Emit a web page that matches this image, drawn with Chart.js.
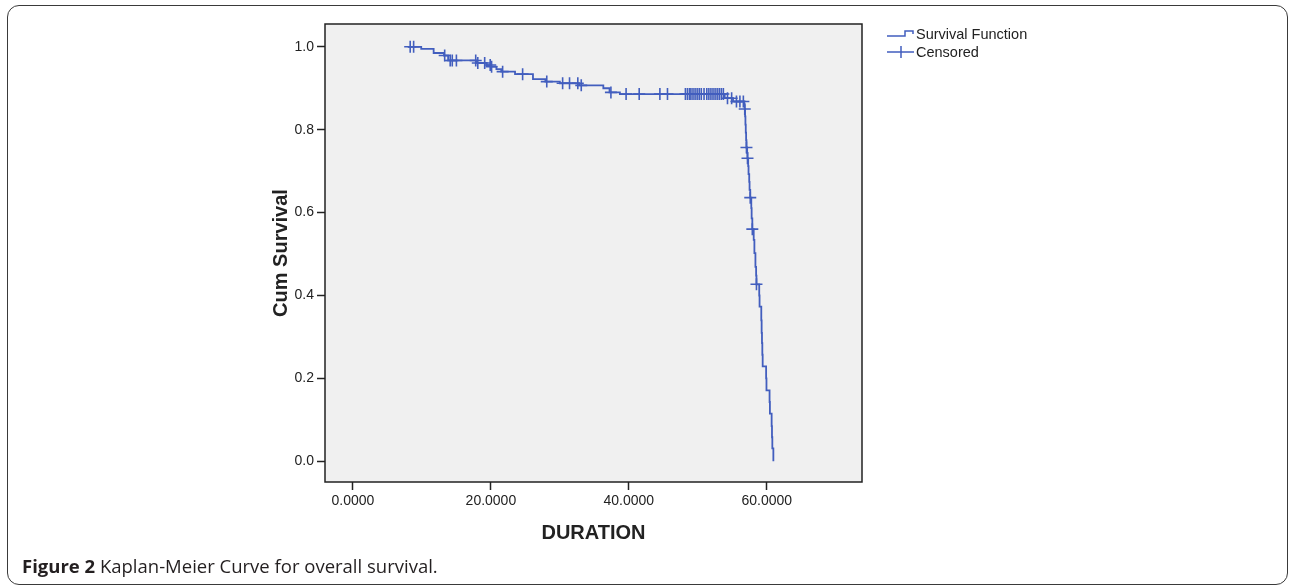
<!DOCTYPE html>
<html>
<head>
<meta charset="utf-8">
<script src="https://cdn.jsdelivr.net/npm/chart.js@4.4.1/dist/chart.umd.min.js"></script>
<style>
  html, body { margin: 0; padding: 0; background: #ffffff; }
  #wrap { position: relative; width: 1290px; height: 587px; overflow: hidden; background: #fff; }
  #frame { position: absolute; left: 7px; top: 5px; width: 1281px; height: 580px; box-sizing: border-box;
           border: 1.5px solid #3a3a3a; border-radius: 12px; }
  #c { position: absolute; left: 0; top: 0; }
  #caption { position: absolute; left: 22px; top: 555px; font-family: "Open Sans", sans-serif; font-size: 18.5px;
             line-height: 22px; color: #231f20; white-space: nowrap; }
  #caption b { font-weight: 700; }
</style>
</head>
<body>
<div id="wrap">
  <div id="frame"></div>
  <canvas id="c" width="1290" height="587"></canvas>
  <div id="caption"><b>Figure 2</b> Kaplan-Meier Curve for overall survival.</div>
</div>
<script>
// ---- Data (months, cumulative survival) ----
const eventTimes = [8.0, 9.9, 11.7, 13.2, 13.8, 17.9, 19.4, 20.0, 20.8, 21.5, 23.5, 26.1, 27.9, 30.0, 32.8,
  36.3, 37.2, 38.7, 53.9, 55.1, 56.7, 56.8, 56.85, 56.9, 56.95, 57.0, 57.05, 57.15, 57.2, 57.3, 57.35,
  57.45, 57.5, 57.6, 57.75, 57.8, 57.9, 58.1, 58.2, 58.35, 58.45, 58.5, 58.9, 58.95, 59.2, 59.25, 59.3,
  59.35, 59.4, 59.9, 59.95, 60.4, 60.45, 60.7, 60.75, 60.8, 60.95];
const eventSurvival = [1.000, 0.995, 0.985, 0.979, 0.967, 0.961, 0.956, 0.952, 0.946, 0.940, 0.934, 0.922,
  0.916, 0.912, 0.907, 0.900, 0.890, 0.886, 0.876, 0.868, 0.859, 0.850, 0.832, 0.812, 0.793, 0.775, 0.757,
  0.744, 0.731, 0.712, 0.693, 0.674, 0.655, 0.636, 0.611, 0.586, 0.560, 0.534, 0.502, 0.469, 0.448, 0.427,
  0.400, 0.373, 0.340, 0.310, 0.285, 0.257, 0.229, 0.200, 0.171, 0.143, 0.115, 0.085, 0.058, 0.031, 0.000];
const censorTimes = [8.3, 8.8, 13.3, 14.1, 14.4, 15.0, 17.8, 18.1, 19.1, 19.9, 20.1, 21.7, 24.6, 28.1, 30.4,
  31.4, 32.6, 33.1, 37.4, 39.6, 41.5, 44.5, 45.6, 48.2, 48.5, 48.8, 49.0, 49.3, 49.6, 49.9, 50.2, 50.5,
  50.9, 51.3, 51.6, 51.9, 52.2, 52.5, 52.8, 53.1, 53.4, 53.7, 54.3, 54.9, 55.6, 56.1, 56.6, 56.8, 57.05,
  57.2, 57.6, 57.9, 58.5];
const censorSurvival = [1.000, 1.000, 0.979, 0.967, 0.967, 0.967, 0.967, 0.961, 0.961, 0.956, 0.952, 0.940,
  0.934, 0.916, 0.912, 0.912, 0.912, 0.907, 0.890, 0.886, 0.886, 0.886, 0.886, 0.886, 0.886, 0.886, 0.886,
  0.886, 0.886, 0.886, 0.886, 0.886, 0.886, 0.886, 0.886, 0.886, 0.886, 0.886, 0.886, 0.886, 0.886, 0.886,
  0.876, 0.876, 0.868, 0.868, 0.868, 0.850, 0.757, 0.731, 0.636, 0.560, 0.427];
const xTickValues = [0, 20, 40, 60];
const yTickValues = [0.0, 0.2, 0.4, 0.6, 0.8, 1.0];
const legendLabels = ['Survival Function', 'Censored'];

const LINE = 'rgb(66, 94, 190)';
const AXIS = '#222222';

const plotPlugin = {
  id: 'plotDecor',
  beforeDatasetsDraw(chart) {
    const { ctx, chartArea: a } = chart;
    ctx.save();
    ctx.fillStyle = '#f0f0f0';
    ctx.fillRect(a.left, a.top, a.right - a.left, a.bottom - a.top);
    ctx.restore();
  },
  afterDraw(chart) {
    const { ctx, chartArea: a } = chart;
    ctx.save();
    ctx.strokeStyle = AXIS;
    ctx.lineWidth = 1.5;
    ctx.strokeRect(a.left, a.top, a.right - a.left, a.bottom - a.top);
    // legend
    ctx.strokeStyle = LINE;
    ctx.lineWidth = 1.5;
    ctx.beginPath();
    ctx.moveTo(887, 36); ctx.lineTo(905, 36); ctx.lineTo(905, 31); ctx.lineTo(913, 31); ctx.lineTo(913, 34);
    ctx.stroke();
    ctx.beginPath();
    ctx.moveTo(887, 52); ctx.lineTo(914, 52);
    ctx.moveTo(901, 46); ctx.lineTo(901, 58);
    ctx.stroke();
    ctx.fillStyle = AXIS;
    ctx.font = '14.5px "Liberation Sans", Arial, sans-serif';
    ctx.textBaseline = 'middle';
    ctx.textAlign = 'left';
    ctx.fillText(legendLabels[0], 916, 35);
    ctx.fillText(legendLabels[1], 916, 53);
    ctx.restore();
  }
};

const tickFont = { family: '"Liberation Sans", Arial, sans-serif', size: 14 };
const titleFont = { family: '"Liberation Sans", Arial, sans-serif', size: 20, weight: 'bold' };

new Chart(document.getElementById('c'), {
  type: 'line',
  data: {
    datasets: [
      {
        label: legendLabels[0],
        data: eventTimes.map((t, i) => ({ x: t, y: eventSurvival[i] })),
        stepped: true,
        borderColor: LINE,
        borderWidth: 1.8,
        pointRadius: 0,
        fill: false
      },
      {
        type: 'scatter',
        label: legendLabels[1],
        data: censorTimes.map((t, i) => ({ x: t, y: censorSurvival[i] })),
        pointStyle: 'cross',
        pointRadius: 6,
        pointBorderWidth: 1.6,
        borderColor: LINE,
        backgroundColor: LINE,
        showLine: false
      }
    ]
  },
  options: {
    responsive: false,
    animation: false,
    devicePixelRatio: 1,
    layout: { padding: { left: 265, top: 24, right: 428, bottom: 38 } },
    plugins: { legend: { display: false }, tooltip: { enabled: false } },
    scales: {
      x: {
        type: 'linear',
        min: -4.05,
        max: 73.8,
        afterBuildTicks: s => { s.ticks = xTickValues.map(v => ({ value: v })); },
        afterFit: s => { s.height = 67; },
        ticks: { callback: v => Number(v).toFixed(4), font: tickFont, color: AXIS, padding: 3,
                 minRotation: 0, maxRotation: 0, autoSkip: false },
        grid: { drawOnChartArea: false, drawTicks: true, tickLength: 8, tickColor: AXIS, tickWidth: 1.5 },
        border: { display: false },
        title: { display: true, text: 'DURATION', font: titleFont, color: AXIS, padding: { top: 4, bottom: 4 } }
      },
      y: {
        type: 'linear',
        min: -0.05,
        max: 1.055,
        afterBuildTicks: s => { s.ticks = yTickValues.map(v => ({ value: v })); },
        afterFit: s => { s.width = 60; },
        ticks: { callback: v => Number(v).toFixed(1), font: tickFont, color: AXIS, padding: 3, autoSkip: false },
        grid: { drawOnChartArea: false, drawTicks: true, tickLength: 8, tickColor: AXIS, tickWidth: 1.5 },
        border: { display: false },
        title: { display: true, text: 'Cum Survival', font: titleFont, color: AXIS, padding: { top: 4, bottom: 4 } }
      }
    }
  },
  plugins: [plotPlugin]
});
</script>
</body>
</html>
